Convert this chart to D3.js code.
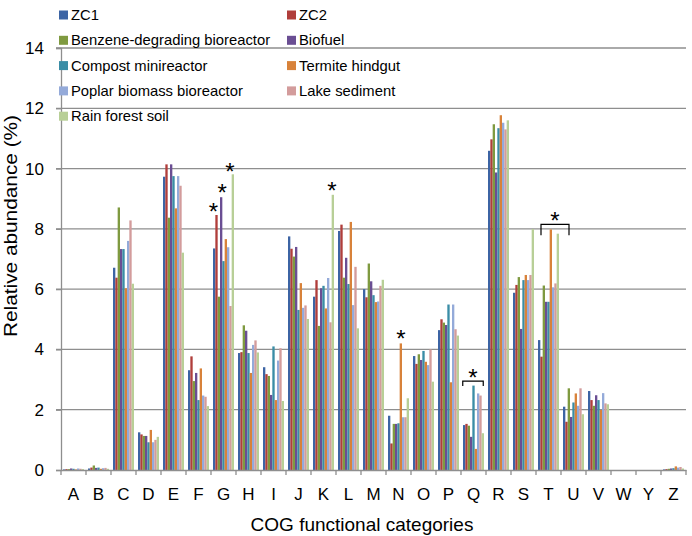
<!DOCTYPE html>
<html>
<head>
<meta charset="utf-8">
<script src="https://cdn.jsdelivr.net/npm/d3@7"></script>
<style>
  body { margin: 0; background: #fff; }
  text { font-family: "Liberation Sans", Arial, sans-serif; }
</style>
</head>
<body>
<div id="chart"></div>
<script>
// Data
const categories = ["A","B","C","D","E","F","G","H","I","J","K","L","M","N","O","P","Q","R","S","T","U","V","W","Y","Z"];
const seriesNames = ["ZC1","ZC2","Benzene-degrading bioreactor","Biofuel","Compost minireactor","Termite hindgut","Poplar biomass bioreactor","Lake sediment","Rain forest soil"];
const yTicks = [0, 2, 4, 6, 8, 10, 12, 14];

// one array per series, values by category A..Z
const zc1     = [0.02,0.05,6.71,1.25,9.73,3.31,7.35,3.88,3.41,7.75,5.75,7.93,6.00,1.80,3.78,4.64,1.49,10.59,5.88,4.31,2.10,2.62,0,0,0.02];
const zc2     = [0.03,0.08,6.38,1.18,10.14,3.77,8.46,3.91,3.18,7.34,6.30,8.14,5.73,0.88,3.52,5.00,1.53,10.97,6.14,3.76,1.60,2.32,0,0,0.03];
const benzene = [0.03,0.15,8.71,1.13,8.37,2.95,5.75,4.80,3.12,7.08,4.78,6.38,6.85,1.53,3.84,4.89,1.47,11.47,6.40,6.12,2.71,2.13,0,0,0.04];
const biofuel = [0.05,0.07,7.33,1.13,10.14,3.22,9.05,4.62,2.49,7.40,6.03,7.04,6.26,1.53,3.65,4.81,1.10,9.87,4.68,5.58,1.76,2.48,0,0,0.05];
const compost = [0.04,0.08,7.33,0.92,9.75,2.32,6.93,3.88,4.10,5.31,6.11,6.17,5.80,1.55,3.95,5.49,2.80,11.34,6.30,5.58,2.24,2.32,0,0,0.06];
const termite = [0.02,0.04,6.03,1.33,8.68,3.37,7.66,3.22,2.32,6.20,5.36,8.23,5.57,4.20,3.59,2.91,0.70,11.77,6.47,7.98,2.54,1.99,0,0,0.12];
const poplar  = [0.05,0.06,7.60,0.92,9.75,2.47,7.39,4.15,3.63,5.38,6.37,5.47,5.59,1.75,3.48,5.49,2.54,11.52,6.30,6.06,2.13,2.55,0,0,0.08];
const lake    = [0.04,0.07,8.28,1.00,9.43,2.43,5.44,4.30,4.04,5.46,4.90,6.74,6.11,1.75,4.00,4.67,2.47,11.30,6.47,6.19,2.71,2.21,0,0,0.10];
const rain    = [0.03,0.04,6.18,1.10,7.21,2.12,9.81,3.90,2.29,5.01,9.13,4.70,6.31,2.38,2.93,4.46,1.22,11.60,7.99,7.84,1.85,2.18,0,0,0.05];
const seriesValues = [zc1, zc2, benzene, biofuel, compost, termite, poplar, lake, rain];

// significance marks: single asterisks over one bar, brackets over a group
const starMarks = [
  { cat: "G", series: "ZC2", dx: -3, dy: 1 },
  { cat: "G", series: "Biofuel", dx: 1, dy: 0 },
  { cat: "G", series: "Rain forest soil", dx: -3, dy: 2 },
  { cat: "K", series: "Rain forest soil", dx: -1, dy: 0 },
  { cat: "N", series: "Termite hindgut", dx: 0, dy: 0 }
];
const bracketMarks = [
  { cat: "Q", level: 2.95, from: 0.07, to: 0.89, drop: 5 },
  { cat: "T", level: 8.15, from: 0.2, to: 1.32, drop: 11 }
];

const colors = ["#3C64A4","#B03E3B","#7F9A40","#6A4E93","#3A8DA6","#D8823A","#94AAD9","#D39C9C","#B8CF97"];

const W = 692, H = 536;
const svg = d3.select("#chart").append("svg")
    .attr("width", W)
    .attr("height", H);

// Scales
const x0 = d3.scaleBand()
    .domain(categories)
    .range([61, 686]);

const x1 = d3.scaleBand()
    .domain(seriesNames)
    .range([2, 23]);

const y = d3.scaleLinear()
    .domain([0, 14])
    .range([470, 48]);

const color = d3.scaleOrdinal().domain(seriesNames).range(colors);

// Gridlines
svg.append("g")
    .selectAll("line")
    .data(yTicks.filter(d => d > 0))
    .join("line")
    .attr("x1", 56)
    .attr("x2", 686)
    .attr("y1", d => y(d))
    .attr("y2", d => y(d))
    .attr("stroke", "#8e8e8e")
    .attr("stroke-width", 1.3);

// Y axis
const yAxis = svg.append("g")
    .attr("transform", "translate(61,0)")
    .call(d3.axisLeft(y).tickValues(yTicks).tickSize(5).tickPadding(12));
yAxis.select(".domain").attr("stroke", "#8e8e8e").attr("stroke-width", 1.3);
yAxis.selectAll(".tick line").attr("stroke", "#8e8e8e").attr("stroke-width", 1.3);
yAxis.selectAll(".tick text")
    .attr("font-size", 17)
    .attr("fill", "#000")
    .style("font-family", "Liberation Sans, Arial, sans-serif");

// Bars
const rows = categories.map((c, i) => ({ cat: c, values: seriesNames.map((s, j) => ({ key: s, value: seriesValues[j][i] })) }));

svg.append("g")
    .selectAll("g")
    .data(rows)
    .join("g")
    .attr("transform", d => `translate(${x0(d.cat)},0)`)
    .selectAll("rect")
    .data(d => d.values)
    .join("rect")
    .attr("x", d => x1(d.key))
    .attr("y", d => y(d.value))
    .attr("width", x1.bandwidth())
    .attr("height", d => y(0) - y(d.value))
    .attr("fill", d => color(d.key));

// X axis
const xAxis = svg.append("g")
    .attr("transform", `translate(0,${y(0)})`)
    .call(d3.axisBottom(x0).tickSize(0).tickPadding(15));
xAxis.select(".domain").attr("stroke", "#8e8e8e").attr("stroke-width", 1.3);
xAxis.selectAll(".tick text")
    .attr("dy", "0.9em")
    .attr("font-size", 17)
    .attr("fill", "#000")
    .style("font-family", "Liberation Sans, Arial, sans-serif");

// category separators below the axis
svg.append("g")
    .selectAll("line")
    .data(d3.range(categories.length + 1))
    .join("line")
    .attr("x1", i => 61 + i * x0.step())
    .attr("x2", i => 61 + i * x0.step())
    .attr("y1", y(0))
    .attr("y2", y(0) + 5)
    .attr("stroke", "#8e8e8e")
    .attr("stroke-width", 1.3);

// Axis titles
svg.append("text")
    .attr("x", 362)
    .attr("y", 531)
    .attr("text-anchor", "middle")
    .attr("font-size", 19)
    .text("COG functional categories");

svg.append("text")
    .attr("transform", "translate(17,226) rotate(-90)")
    .attr("text-anchor", "middle")
    .attr("font-size", 19)
    .attr("textLength", 222)
    .attr("lengthAdjust", "spacingAndGlyphs")
    .text("Relative abundance (%)");

// Asterisks over bars
const valueOf = (cat, s) => seriesValues[seriesNames.indexOf(s)][categories.indexOf(cat)];

svg.append("g")
    .selectAll("text")
    .data(starMarks)
    .join("text")
    .attr("x", d => x0(d.cat) + x1(d.series) + x1.bandwidth() / 2 + d.dx)
    .attr("y", d => y(valueOf(d.cat, d.series)) + 4 + d.dy)
    .attr("text-anchor", "middle")
    .attr("font-size", 24)
    .text("*");

// Brackets with asterisks
const br = svg.append("g")
    .selectAll("g")
    .data(bracketMarks)
    .join("g");

br.append("path")
    .attr("d", d => {
        const a = x0(d.cat) + d.from * x0.step();
        const b = x0(d.cat) + d.to * x0.step();
        const t = y(d.level);
        return `M${a},${t + d.drop}V${t}H${b}V${t + d.drop}`;
    })
    .attr("fill", "none")
    .attr("stroke", "#000")
    .attr("stroke-width", 1.2);

br.append("text")
    .attr("x", d => x0(d.cat) + (d.from + d.to) / 2 * x0.step())
    .attr("y", d => y(d.level) + 5)
    .attr("text-anchor", "middle")
    .attr("font-size", 24)
    .text("*");

// Legend
const legend = svg.append("g")
    .selectAll("g")
    .data(seriesNames)
    .join("g")
    .attr("transform", (d, i) => `translate(${i % 2 === 0 ? 59 : 287},${15 + Math.floor(i / 2) * 25.3})`);

legend.append("rect")
    .attr("x", 0)
    .attr("y", -4.5)
    .attr("width", 9)
    .attr("height", 9)
    .attr("fill", color);

legend.append("text")
    .attr("x", 12)
    .attr("dy", "0.35em")
    .attr("font-size", 14.8)
    .text(d => d);
</script>
</body>
</html>
